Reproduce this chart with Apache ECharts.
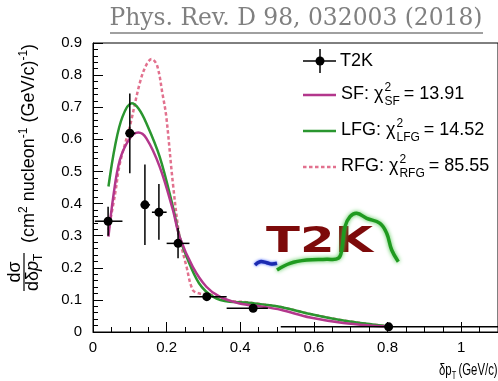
<!DOCTYPE html>
<html>
<head>
<meta charset="utf-8">
<script src="https://cdn.jsdelivr.net/npm/echarts@6/dist/echarts.min.js"></script>
<style>
html, body { margin: 0; padding: 0; background: #fff; }
#chart { width: 498px; height: 381px; }
</style>
</head>
<body>
<div id="chart"></div>
<script>
// T2K measurement: point, bin edges, error bar ends
const t2kX = [0.041, 0.100, 0.141, 0.179, 0.231, 0.309, 0.435, 0.803]
const t2kY = [0.345, 0.619, 0.396, 0.373, 0.276, 0.110, 0.074, 0.016]
const t2kXLo = [0.005, 0.088, 0.130, 0.160, 0.200, 0.262, 0.363, 0.510]
const t2kXHi = [0.080, 0.115, 0.155, 0.200, 0.262, 0.363, 0.475, 1.100]
const t2kYLo = [0.300, 0.494, 0.271, 0.287, 0.230, 0.100, 0.068, 0.011]
const t2kYHi = [0.390, 0.743, 0.522, 0.461, 0.324, 0.120, 0.080, 0.021]

// model predictions
const sfX = [0.042, 0.055, 0.073, 0.100, 0.123, 0.145, 0.181, 0.217, 0.235, 0.271, 0.308, 0.344, 0.398, 0.46, 0.51, 0.59, 0.68, 0.77, 0.80]
const sfY = [0.297, 0.421, 0.536, 0.603, 0.621, 0.603, 0.515, 0.380, 0.297, 0.203, 0.141, 0.110, 0.089, 0.079, 0.069, 0.045, 0.028, 0.019, 0.017]

const lfgX = [0.042, 0.060, 0.080, 0.105, 0.124, 0.145, 0.181, 0.217, 0.235, 0.254, 0.288, 0.326, 0.371, 0.416, 0.46, 0.51, 0.59, 0.68, 0.77, 0.80]
const lfgY = [0.453, 0.580, 0.670, 0.712, 0.695, 0.650, 0.546, 0.390, 0.297, 0.235, 0.152, 0.110, 0.094, 0.092, 0.086, 0.078, 0.056, 0.036, 0.022, 0.018]

const rfgX = [0.042, 0.060, 0.073, 0.100, 0.127, 0.144, 0.159, 0.174, 0.189, 0.199, 0.217, 0.235, 0.254, 0.271, 0.289, 0.309, 0.329, 0.371, 0.416, 0.46, 0.51, 0.59, 0.68, 0.77, 0.80]
const rfgY = [0.318, 0.430, 0.525, 0.640, 0.775, 0.830, 0.850, 0.830, 0.740, 0.671, 0.463, 0.297, 0.203, 0.131, 0.120, 0.118, 0.113, 0.097, 0.093, 0.086, 0.078, 0.056, 0.036, 0.022, 0.018]

const xTicks = [0, 0.2, 0.4, 0.6, 0.8, 1]
const yTicks = [0, 0.1, 0.2, 0.3, 0.4, 0.5, 0.6, 0.7, 0.8, 0.9]

const legendRows = [
  { name: 'SF', chi: '13.91' },
  { name: 'LFG', chi: '14.52' },
  { name: 'RFG', chi: '85.55' },
]

const colSF = '#b3378c'
const colLFG = '#2a962f'
const colRFG = '#e2718e'
const font = 'Liberation Sans, Arial, sans-serif'

const chart = echarts.init(document.getElementById('chart'))

const zip = (xs, ys) => xs.map((x, i) => [x, ys[i]])

// text widths for laying out the legend labels
const ctx = document.createElement('canvas').getContext('2d')
const textW = (s, size) => {
  ctx.font = size + 'px ' + font
  return ctx.measureText(s).width
}

const txt = (x, y, s, size, extra) => ({
  type: 'text',
  x: x,
  y: y,
  style: Object.assign({
    text: s,
    fill: '#000',
    font: size + 'px ' + font,
    textAlign: 'left',
    textVerticalAlign: 'middle',
    align: 'left',
    verticalAlign: 'middle',
  }, extra || {}),
})

const legendGraphics = () => {
  const out = []
  // T2K entry
  out.push({ type: 'line', shape: { x1: 303, y1: 61, x2: 336, y2: 61 }, style: { stroke: '#000', lineWidth: 1.5 } })
  out.push({ type: 'line', shape: { x1: 320, y1: 49, x2: 320, y2: 73 }, style: { stroke: '#000', lineWidth: 1.5 } })
  out.push({ type: 'circle', shape: { cx: 320, cy: 61, r: 4.5 }, style: { fill: '#000' } })
  out.push(txt(340, 61, 'T2K', 18))

  const colors = [colSF, colLFG, colRFG]
  const rowsY = [94, 130, 166]
  legendRows.forEach((row, i) => {
    const y = rowsY[i]
    const line = { type: 'line', shape: { x1: 303, y1: y + 1, x2: 336, y2: y + 1 }, style: { stroke: colors[i], lineWidth: 2.5 } }
    if (i === 2) line.style.lineDash = [3.5, 2.5]
    out.push(line)
    const head = row.name + ': χ'
    out.push(txt(341, y, head, 18))
    const xs = 341 + textW(head, 18) + 1
    out.push(txt(xs, y - 6, '2', 12))
    out.push(txt(xs, y + 8, row.name, 12))
    const xe = xs + Math.max(textW('2', 12), textW(row.name, 12)) + 4
    out.push(txt(xe, y, '= ' + row.chi, 18))
  })
  return out
}

// rotated y-axis title: fraction + units
const yTitle = {
  type: 'group',
  x: 31,
  y: 291,
  rotation: Math.PI / 2,
  children: [
    { type: 'text', x: 0, y: 2, style: { text: 'dδ', font: '18px ' + font, fill: '#000', textAlign: 'left', align: 'left', textVerticalAlign: 'middle', verticalAlign: 'middle' } },
    { type: 'text', x: 20, y: 2, style: { text: 'p', font: 'italic 18px ' + font, fill: '#000', textAlign: 'left', align: 'left', textVerticalAlign: 'middle', verticalAlign: 'middle' } },
    { type: 'text', x: 30, y: 8, style: { text: 'T', font: '12px ' + font, fill: '#000', textAlign: 'left', align: 'left', textVerticalAlign: 'middle', verticalAlign: 'middle' } },
    { type: 'line', shape: { x1: 0, y1: -7, x2: 38, y2: -7 }, style: { stroke: '#000', lineWidth: 1.2 } },
    { type: 'text', x: 19, y: -16, style: { text: 'dσ', font: '18px ' + font, fill: '#000', textAlign: 'center', align: 'center', textVerticalAlign: 'middle', verticalAlign: 'middle' } },
    {
      type: 'text', x: 48, y: -2,
      style: {
        text: '(cm{s|2} nucleon{s|-1} (GeV/c){s|-1})',
        font: '18px ' + font,
        fill: '#000',
        textAlign: 'left', align: 'left',
        textVerticalAlign: 'middle', verticalAlign: 'middle',
        rich: { s: { fontSize: 12, fontFamily: font, verticalAlign: 'top', lineHeight: 22 } },
      },
    },
  ],
}

const option = {
  backgroundColor: '#fff',
  animation: false,
  grid: {
    left: 93,
    top: 43,
    width: 407,
    bottom: 49,
    show: true,
    borderColor: '#000',
    borderWidth: 1,
  },
  xAxis: {
    type: 'value',
    min: 0,
    max: 1.1,
    interval: 0.2,
    axisLine: { lineStyle: { color: '#000', width: 1 } },
    axisTick: { inside: true, length: 10, lineStyle: { color: '#000' } },
    minorTick: { show: true, splitNumber: 4, length: 5, lineStyle: { color: '#000' } },
    splitLine: { show: false },
    axisLabel: {
      color: '#000',
      fontSize: 15,
      fontFamily: font,
      margin: 8,
      showMaxLabel: false,
      formatter: (v) => (xTicks.includes(+v.toFixed(2)) ? String(+v.toFixed(2)) : ''),
    },
  },
  yAxis: {
    type: 'value',
    min: 0,
    max: 0.9,
    interval: 0.1,
    axisLine: { show: true, lineStyle: { color: '#000', width: 1 } },
    axisTick: { show: true, inside: true, length: 10, lineStyle: { color: '#000' } },
    minorTick: { show: true, splitNumber: 5, length: 5, lineStyle: { color: '#000' } },
    splitLine: { show: false },
    axisLabel: {
      color: '#000',
      fontSize: 15,
      fontFamily: font,
      margin: 11,
      formatter: (v) => (yTicks.includes(+v.toFixed(2)) ? String(+v.toFixed(2)) : ''),
    },
  },
  series: [
    {
      name: 'RFG',
      type: 'line',
      data: zip(rfgX, rfgY),
      showSymbol: false,
      smooth: 0.35,
      lineStyle: { color: colRFG, width: 2.5, type: [3.5, 2.5] },
      z: 2,
    },
    {
      name: 'LFG',
      type: 'line',
      data: zip(lfgX, lfgY),
      showSymbol: false,
      smooth: 0.35,
      lineStyle: { color: colLFG, width: 2.5 },
      z: 3,
    },
    {
      name: 'SF',
      type: 'line',
      data: zip(sfX, sfY),
      showSymbol: false,
      smooth: 0.35,
      lineStyle: { color: colSF, width: 2.5 },
      z: 4,
    },
    {
      name: 'T2K',
      type: 'custom',
      z: 5,
      data: t2kX.map((x, i) => [x, t2kY[i], t2kXLo[i], t2kXHi[i], t2kYLo[i], t2kYHi[i]]),
      renderItem: (params, api) => {
        const c = api.coord([api.value(0), api.value(1)])
        const l = api.coord([api.value(2), api.value(1)])
        const r = api.coord([api.value(3), api.value(1)])
        const b = api.coord([api.value(0), api.value(4)])
        const t = api.coord([api.value(0), api.value(5)])
        return {
          type: 'group',
          children: [
            { type: 'line', shape: { x1: l[0], y1: l[1], x2: r[0], y2: r[1] }, style: { stroke: '#000', lineWidth: 1.5 } },
            { type: 'line', shape: { x1: b[0], y1: b[1], x2: t[0], y2: t[1] }, style: { stroke: '#000', lineWidth: 1.5 } },
            { type: 'circle', shape: { cx: c[0], cy: c[1], r: 4.5 }, style: { fill: '#000' } },
          ],
        }
      },
    },
  ],
  graphic: [
    // journal reference on top
    {
      type: 'text',
      x: 296,
      y: 19,
      style: {
        text: 'Phys. Rev. D 98, 032003 (2018)',
        font: '23.4px DejaVu Serif, serif',
        fill: '#808080',
        textAlign: 'center', align: 'center',
        textVerticalAlign: 'middle', verticalAlign: 'middle',
      },
    },
    { type: 'line', shape: { x1: 110, y1: 33, x2: 483, y2: 33 }, style: { stroke: '#808080', lineWidth: 1.5 } },
    // x-axis title
    {
      type: 'group',
      x: 439,
      y: 370,
      scaleX: 0.67,
      children: [
        txt(0, 0, 'δp', 17),
        txt(19, 6, 'T', 11),
        txt(29, 0, '(GeV/c)', 17),
      ],
    },
    yTitle,
    // T2K logo
    {
      type: 'polyline',
      shape: { points: [[255, 265], [260, 261.7], [266.7, 262.7], [271.7, 264], [277, 263.3]], smooth: 0.4 },
      style: { fill: 'none', stroke: '#1b2ab0', lineWidth: 3.5, shadowBlur: 3, shadowColor: '#4060ff' },
    },
    {
      type: 'text',
      x: 266,
      y: 243,
      scaleX: 1.42,
      style: {
        text: 'T2K',
        font: 'bold 35px DejaVu Sans, sans-serif',
        fill: '#7d0a0a',
        textAlign: 'left', align: 'left',
        textVerticalAlign: 'middle', verticalAlign: 'middle',
      },
    },
    {
      type: 'polyline',
      shape: {
        points: [[277, 270], [290, 263.3], [306.7, 260], [326.7, 259.3], [338.3, 258.3], [341.7, 250], [345, 226.7], [350, 216.7], [356.7, 213.3], [366.7, 218.3], [380, 223.3], [386.7, 233.3], [391.7, 250], [398.3, 261.7]],
        smooth: 0.4,
      },
      style: { fill: 'none', stroke: '#1f9a1f', lineWidth: 3.5, shadowBlur: 4, shadowColor: '#50c850' },
    },
  ].concat(legendGraphics()),
}

chart.setOption(option)
</script>
</body>
</html>
